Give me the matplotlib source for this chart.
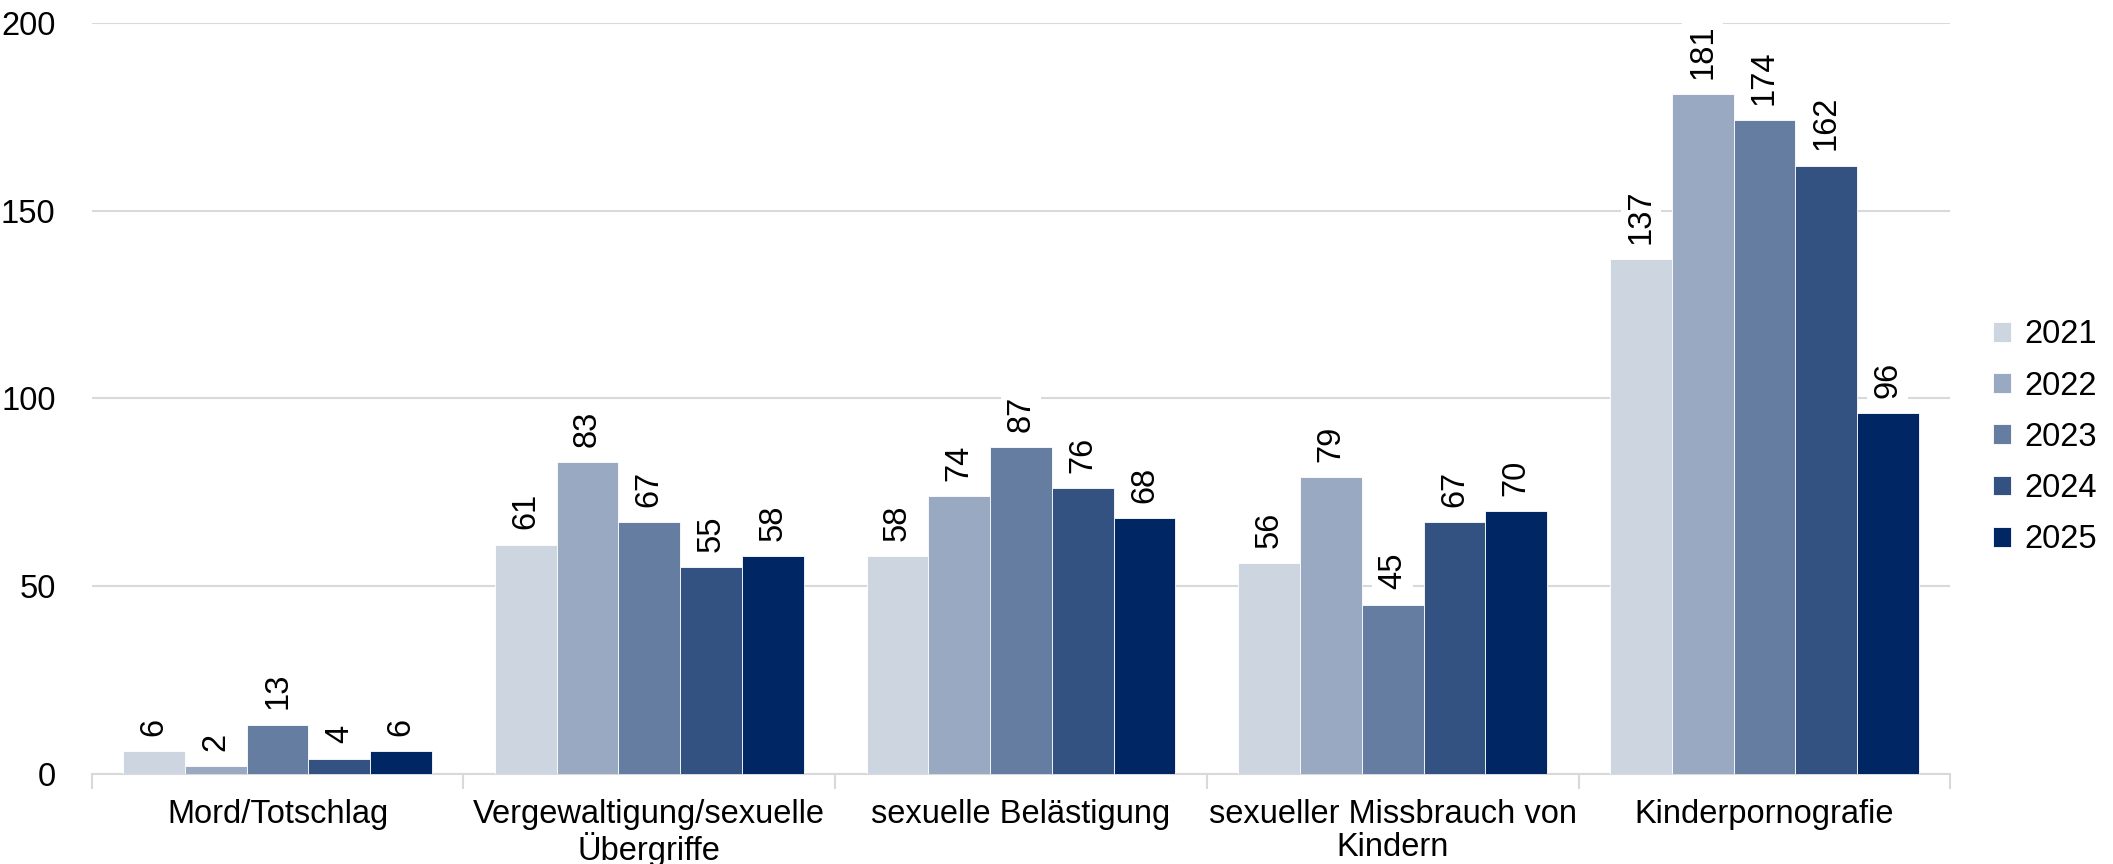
import numpy as np
import matplotlib
matplotlib.use("Agg")
import matplotlib.pyplot as plt

plt.rcParams['font.family'] = ['Liberation Sans', 'DejaVu Sans']

categories = ["Mord/Totschlag", "Vergewaltigung/sexuelle\nÜbergriffe", "sexuelle Belästigung",
              "sexueller Missbrauch von\nKindern", "Kinderpornografie"]
years = ["2021", "2022", "2023", "2024", "2025"]
values_2021 = [6, 61, 58, 56, 137]
values_2022 = [2, 83, 74, 79, 181]
values_2023 = [13, 67, 87, 45, 174]
values_2024 = [4, 55, 76, 67, 162]
values_2025 = [6, 58, 68, 70, 96]
series = [values_2021, values_2022, values_2023, values_2024, values_2025]
colors = ["#CDD5E0", "#99A9C2", "#657DA1", "#335282", "#002663"]

fs = 23.5
fig = plt.figure(figsize=(21.13, 8.64), dpi=100)
ax = fig.add_axes([0.0434, 0.1047, 0.8796, 0.8688])

x = np.arange(len(categories))
bar_w = 0.166
for i, (vals, col, yr) in enumerate(zip(series, colors, years)):
    pos = x + (i - 2) * bar_w
    bars = ax.bar(pos, vals, width=bar_w, color=col, edgecolor="white", linewidth=0.6,
                  label=yr, zorder=3)
    for b, v in zip(bars, vals):
        ax.annotate(str(v), (b.get_x() + b.get_width() / 2, v), xytext=(0, 11),
                    textcoords="offset points", rotation=90, ha="center", va="bottom",
                    fontsize=fs, zorder=4,
                    bbox=dict(boxstyle="square,pad=0.15", fc="white", ec="none"))

ax.set_xlim(-0.5, len(categories) - 0.5)
ax.set_ylim(0, 200)
ax.set_yticks([0, 50, 100, 150, 200])
ax.yaxis.grid(True, color="#D9D9D9", linewidth=1.5, zorder=0)
ax.set_axisbelow(True)

ax.set_xticks(x)
ax.set_xticklabels(categories, fontsize=fs, linespacing=1.1)
ax.set_xticks(np.arange(len(categories) + 1) - 0.5, minor=True)
ax.tick_params(axis="x", which="major", length=0, pad=18)
ax.tick_params(axis="x", which="minor", length=11, width=1.5, color="#D9D9D9")
ax.tick_params(axis="y", length=0, pad=26, labelsize=fs)

for s in ["top", "right", "left"]:
    ax.spines[s].set_visible(False)
ax.spines["bottom"].set_color("#D9D9D9")
ax.spines["bottom"].set_linewidth(1.5)

ax.legend(loc="center left", bbox_to_anchor=(1.016, 0.448), frameon=False, fontsize=fs,
          handlelength=0.55, handleheight=0.55, handletextpad=0.4, labelspacing=0.62,
          borderaxespad=0)

fig.savefig("out.png", dpi=100)
